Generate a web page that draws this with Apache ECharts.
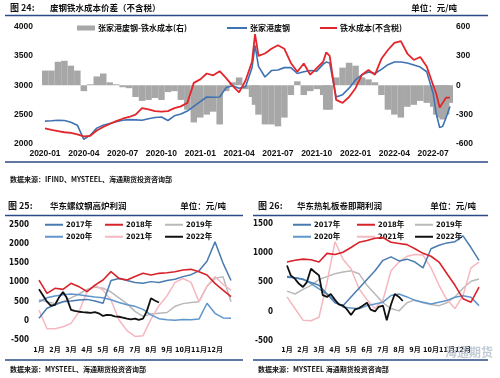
<!DOCTYPE html>
<html><head><meta charset="utf-8">
<script src="https://cdn.jsdelivr.net/npm/echarts@6/dist/echarts.min.js"></script>
<style>html,body{margin:0;padding:0;background:#fff}#c{width:500px;height:378px}</style>
</head><body><div id="c"></div>
<script>
// ---------- Figure 24 data ----------
const topDates = ['2020-01-01','2020-01-16','2020-02-01','2020-02-16','2020-03-01','2020-03-16','2020-04-01','2020-04-16','2020-05-01','2020-05-16','2020-06-01','2020-06-16','2020-07-01','2020-07-16','2020-08-01','2020-08-16','2020-09-01','2020-09-16','2020-10-01','2020-10-16','2020-11-01','2020-11-16','2020-12-01','2020-12-16',
'2021-01-01','2021-01-16','2021-02-01','2021-02-16','2021-03-01','2021-03-16','2021-04-01','2021-04-16','2021-05-01','2021-05-08','2021-05-16','2021-06-01','2021-06-16','2021-07-01','2021-07-16','2021-08-01','2021-08-16','2021-09-01','2021-09-16','2021-10-01','2021-10-16','2021-10-23','2021-11-01','2021-11-16','2021-12-01','2021-12-16',
'2022-01-01','2022-01-16','2022-02-01','2022-02-16','2022-03-01','2022-03-16','2022-04-01','2022-04-16','2022-05-01','2022-05-16','2022-06-01','2022-06-16','2022-07-01','2022-07-08','2022-07-16','2022-07-23','2022-08-01','2022-08-10'];
const scrapPrice = [2390,2395,2405,2400,2370,2320,2080,2150,2270,2320,2350,2380,2405,2415,2410,2405,2430,2450,2460,2400,2480,2510,2560,2640,2720,2800,2795,2800,2960,2990,2950,2975,3300,3680,3320,3140,3250,3260,3300,3300,3200,3230,3250,3240,3360,3395,3380,2800,2840,2950,3090,3180,3225,3200,3270,3350,3395,3395,3380,3345,3310,3230,2860,2520,2280,2300,2450,2640];
const ironCost = [2265,2240,2220,2200,2190,2165,2130,2140,2230,2290,2340,2390,2430,2460,2500,2610,2590,2560,2550,2560,2610,2640,2700,3040,3100,3200,3170,3240,3120,2990,2880,3080,3400,3870,3500,3540,3620,3680,3620,3380,3230,3370,3180,3290,3400,3560,3500,2750,2700,2800,2950,3180,3260,3180,3450,3600,3720,3750,3540,3430,3480,3320,3000,2860,2620,2700,2790,2790];
const spread = [150,150,240,250,200,150,-60,10,90,120,30,10,-20,-30,-120,-160,-150,-130,-150,-70,-60,-150,-250,-380,-330,-300,-270,-400,-60,30,80,-40,-120,-200,-300,-400,-400,-420,-330,-100,40,-100,-60,-40,-100,-250,-250,80,180,230,200,80,60,30,-100,-250,-300,-330,-220,-200,-160,-180,-220,-300,-330,-350,-300,-180];

// ---------- Figures 25 / 26 data ----------
const halfDates = ['01-01','01-16','02-01','02-16','03-01','03-16','04-01','04-16','05-01','05-16','06-01','06-16','07-01','07-16','08-01','08-16','09-01','09-16','10-01','10-16','11-01','11-16','12-01','12-16','12-31'];
const weekDates2022 = ['01-01','01-08','01-16','01-23','02-01','02-08','02-16','02-23','03-01','03-08','03-16','03-23','04-01','04-08','04-16','04-23','05-01','05-08','05-16','05-23','06-01','06-08','06-16','06-23','07-01','07-08','07-16','07-23','08-01','08-08','08-16'];
const years = ['2017年','2018年','2019年','2020年','2021年','2022年'];

const rebar2017 = [70,330,420,500,520,545,560,520,460,1050,1100,1050,1000,980,1020,1000,1050,1080,1150,1200,1300,1550,2050,1500,1050];
const rebar2018 = [1060,717,847,820,975,890,760,930,1062,1278,1105,1062,1150,1235,1190,1235,1252,1278,1320,1338,1278,1190,975,800,630];
const rebar2019 = [550,500,450,500,600,700,820,880,850,750,600,450,250,120,180,200,220,380,450,480,500,900,1100,1150,500];
const rebar2020 = [500,600,650,680,700,680,650,620,600,550,480,420,380,300,160,60,30,20,40,30,50,460,200,80,70];
const rebar2021 = [285,-200,-200,-150,-60,240,760,930,800,545,25,-250,-400,-380,50,400,650,1000,1100,1000,500,900,1150,950,800];
const rebar2022 = [820,675,500,400,420,600,750,600,290,260,240,230,220,210,230,200,130,160,150,120,110,90,60,40,60,30,60,250,590,530,480];

const hrc2017 = [600,580,550,500,450,300,150,100,250,400,550,700,880,940,870,900,850,750,1080,1140,1180,1200,1300,1100,880];
const hrc2018 = [850,880,900,890,850,1000,980,1020,1100,1190,1220,1260,1270,1190,1170,1150,1080,1000,950,850,650,450,220,160,420];
const hrc2019 = [350,300,380,450,550,600,650,680,700,650,450,300,150,50,10,150,200,150,120,100,150,250,400,520,560];
const hrc2020 = [590,580,560,480,390,300,190,75,60,45,100,130,160,275,300,250,190,160,130,160,190,245,270,245,100];
const hrc2021 = [250,50,-150,-160,-100,500,1200,900,735,390,200,50,200,700,850,950,980,970,750,450,200,50,275,750,850];
const hrc2022 = [790,620,560,480,420,500,735,680,620,280,250,300,200,120,100,40,-60,30,60,100,150,30,0,80,100,-150,120,300,250,180];

const monthLabels = ['1月','2月','3月','4月','5月','6月','7月','8月','9月','10月','11月','12月'];

// ---------- helpers ----------
function topT(s){const p=s.split('-').map(Number);return (p[0]-2020)*12+(p[1]-1)+(p[2]-1)/30;}
function yrT(s){const p=s.split('-').map(Number);return (p[0]-1)+(p[1]-1)/30;}
function pairs(dates,vals,fn){return vals.map((v,i)=>[fn(dates[i]),v]);}

const NUM = '"Liberation Sans Narrow","Arial Narrow","DejaVu Sans Condensed","Liberation Sans",sans-serif';
const CJK = '"Noto Sans CJK SC","Noto Sans",sans-serif';
const NUMCJK = '"Liberation Sans Narrow","Arial Narrow","DejaVu Sans Condensed","Noto Sans CJK SC",sans-serif';

const yearColors = {'2017年':'#4a7bb0','2018年':'#d8232a','2019年':'#b9b9b9','2020年':'#5f96cc','2021年':'#f5b7c0','2022年':'#111111'};
const yearWidth = {'2017年':1.5,'2018年':1.6,'2019年':1.5,'2020年':1.5,'2021年':1.5,'2022年':1.8};

const hidden = {axisLine:{show:false},axisTick:{show:false},splitLine:{show:false}};

function yearSeries(name,dates,vals,xi,yi){
  return {name,type:'line',xAxisIndex:xi,yAxisIndex:yi,data:pairs(dates,vals,yrT),
    showSymbol:false,symbol:'none',lineStyle:{width:yearWidth[name],color:yearColors[name]},
    itemStyle:{color:yearColors[name]},z:name==='2022年'?6:(name==='2018年'?5:3)};
}

const legends = [];
function addLegend(name,left,top,opt){
  legends.push(Object.assign({data:[name],left,top,padding:0,itemGap:0,icon:'rect',itemWidth:18,itemHeight:2,
    selectedMode:false,textStyle:{fontSize:7.5,fontWeight:'bold',color:'#111',fontFamily:NUMCJK,padding:[0,0,0,-2]}},opt||{}));
}
// top legends
addLegend('张家港废钢-铁水成本(右)',77,24,{itemHeight:5,textStyle:{fontSize:8,fontWeight:'bold',color:'#111',fontFamily:CJK,padding:[0,0,0,-2]}});
addLegend('张家港废钢',227,24,{itemWidth:20,itemHeight:2,textStyle:{fontSize:8,fontWeight:'bold',color:'#111',fontFamily:CJK,padding:[0,0,0,-2]}});
addLegend('铁水成本(不含税)',320,24,{itemWidth:17,itemHeight:2,textStyle:{fontSize:8,fontWeight:'bold',color:'#111',fontFamily:CJK,padding:[0,0,0,-2]}});
// bottom legends
const legX1=[45,105,165], legX2=[293,357,415], legY=[221,233];
years.forEach((y,i)=>{
  addLegend(y,legX1[i%3],legY[Math.floor(i/3)]);
  addLegend(y,legX2[i%3],legY[Math.floor(i/3)]);
});

const plain = v=>String(v);
const numLabelTop = {fontSize:8.5,fontWeight:'bold',color:'#111',fontFamily:'"Liberation Sans",Arial,sans-serif',formatter:plain};
const numLabelBot = {fontSize:8,fontWeight:'bold',color:'#111',fontFamily:NUM,formatter:plain};
const monthLabel = {fontSize:7,fontWeight:'bold',color:'#111',fontFamily:NUMCJK};

const option = {
  animation:false,
  backgroundColor:'#fff',
  legend:legends,
  grid:[
    {left:45,top:26.5,width:405,height:117.5},
    {left:39,top:224.5,width:192,height:115.8},
    {left:287,top:224.3,width:192,height:116.2}
  ],
  xAxis:[
    Object.assign({gridIndex:0,type:'value',min:0,max:31.3,interval:3,
      axisLabel:Object.assign({},numLabelTop,{margin:5,showMaxLabel:false,formatter:v=>{if(v%3!==0)return '';const y=2020+Math.floor(v/12);const m=v%12+1;return y+'-'+String(m).padStart(2,'0');}})},hidden),
    Object.assign({gridIndex:1,type:'value',min:0,max:12,interval:1,
      axisLabel:Object.assign({margin:6,formatter:v=>monthLabels[v]||''},monthLabel)},hidden),
    Object.assign({gridIndex:2,type:'value',min:0,max:12,interval:1,
      axisLabel:Object.assign({margin:6,formatter:v=>monthLabels[v]||''},monthLabel)},hidden)
  ],
  yAxis:[
    Object.assign({gridIndex:0,type:'value',min:2000,max:4000,interval:500,axisLabel:Object.assign({margin:12},numLabelTop)},hidden),
    Object.assign({gridIndex:0,type:'value',position:'right',min:-600,max:600,interval:300,axisLabel:Object.assign({margin:6},numLabelTop)},hidden),
    Object.assign({gridIndex:1,type:'value',min:-500,max:2500,interval:500,axisLabel:Object.assign({margin:10},numLabelBot)},hidden),
    Object.assign({gridIndex:2,type:'value',min:-500,max:1500,interval:500,axisLabel:Object.assign({margin:14},numLabelBot)},hidden)
  ],
  series:[
    {name:'张家港废钢-铁水成本(右)',type:'bar',xAxisIndex:0,yAxisIndex:1,barWidth:6.5,
     data:pairs(topDates,spread,topT),itemStyle:{color:'#a7a7a7'},z:1},
    {name:'张家港废钢',type:'line',xAxisIndex:0,yAxisIndex:0,data:pairs(topDates,scrapPrice,topT),
     showSymbol:false,symbol:'none',lineStyle:{width:1.6,color:'#3f72b3'},itemStyle:{color:'#3f72b3'},z:3},
    {name:'铁水成本(不含税)',type:'line',xAxisIndex:0,yAxisIndex:0,data:pairs(topDates,ironCost,topT),
     showSymbol:false,symbol:'none',lineStyle:{width:1.8,color:'#e2262b'},itemStyle:{color:'#e2262b'},z:4},

    yearSeries('2019年',halfDates,rebar2019,1,2),
    yearSeries('2021年',halfDates,rebar2021,1,2),
    yearSeries('2020年',halfDates,rebar2020,1,2),
    yearSeries('2017年',halfDates,rebar2017,1,2),
    yearSeries('2018年',halfDates,rebar2018,1,2),
    yearSeries('2022年',weekDates2022,rebar2022,1,2),

    yearSeries('2019年',halfDates,hrc2019,2,3),
    yearSeries('2021年',halfDates,hrc2021,2,3),
    yearSeries('2020年',halfDates,hrc2020,2,3),
    yearSeries('2017年',halfDates,hrc2017,2,3),
    yearSeries('2018年',halfDates,hrc2018,2,3),
    yearSeries('2022年',weekDates2022.slice(0,hrc2022.length),hrc2022,2,3)
  ],
  graphic:[
    {type:'text',style:{x:10,y:8,text:'图 24:',font:'bold 9px '+CJK,fill:'#111',verticalAlign:'middle'}},
    {type:'text',style:{x:50,y:8,text:'废钢铁水成本价差（不含税）',font:'bold 8.5px '+CJK,fill:'#111',verticalAlign:'middle'}},
    {type:'text',style:{x:457,y:8,text:'单位：元/吨',font:'bold 8.5px '+CJK,fill:'#111',align:'right',verticalAlign:'middle'}},
    {type:'line',shape:{x1:5,y1:15.5,x2:488,y2:15.5},style:{stroke:'#2b4a86',lineWidth:1.5}},
    {type:'line',shape:{x1:5,y1:162,x2:488,y2:162},style:{stroke:'#2b4a86',lineWidth:1.5}},
    {type:'text',style:{x:10,y:179,text:'数据来源：IFIND、MYSTEEL、海通期货投资咨询部',font:'bold 7px '+CJK,fill:'#111',verticalAlign:'middle'}},

    {type:'text',style:{x:8,y:206,text:'图 25:',font:'bold 9px '+CJK,fill:'#111',verticalAlign:'middle'}},
    {type:'text',style:{x:50,y:206,text:'华东螺纹钢高炉利润',font:'bold 8.5px '+CJK,fill:'#111',verticalAlign:'middle'}},
    {type:'text',style:{x:226,y:206,text:'单位：元/吨',font:'bold 8.5px '+CJK,fill:'#111',align:'right',verticalAlign:'middle'}},
    {type:'line',shape:{x1:5,y1:215.5,x2:243,y2:215.5},style:{stroke:'#2b4a86',lineWidth:1.5}},
    {type:'line',shape:{x1:5,y1:360,x2:243,y2:360},style:{stroke:'#2b4a86',lineWidth:1.5}},
    {type:'text',style:{x:10,y:369,text:'数据来源：MYSTEEL、海通期货投资咨询部',font:'bold 7px '+CJK,fill:'#111',verticalAlign:'middle'}},

    {type:'text',style:{x:258,y:206,text:'图 26:',font:'bold 9px '+CJK,fill:'#111',verticalAlign:'middle'}},
    {type:'text',style:{x:297,y:206,text:'华东热轧板卷即期利润',font:'bold 8.5px '+CJK,fill:'#111',verticalAlign:'middle'}},
    {type:'text',style:{x:476,y:206,text:'单位：元/吨',font:'bold 8.5px '+CJK,fill:'#111',align:'right',verticalAlign:'middle'}},
    {type:'line',shape:{x1:253,y1:215.5,x2:488,y2:215.5},style:{stroke:'#2b4a86',lineWidth:1.5}},
    {type:'line',shape:{x1:253,y1:360,x2:488,y2:360},style:{stroke:'#2b4a86',lineWidth:1.5}},
    {type:'text',style:{x:258,y:369,text:'数据来源：MYSTEEL 海通期货投资咨询部',font:'bold 7px '+CJK,fill:'#111',verticalAlign:'middle'}},
    {type:'text',z:100,style:{x:445,y:352,text:'海通期货',font:'bold 12px '+CJK,fill:'rgba(175,185,200,0.75)',verticalAlign:'middle'}}
  ]
};
const chart = echarts.init(document.getElementById('c'),null,{renderer:'canvas'});
chart.setOption(option);
</script>
</body></html>
